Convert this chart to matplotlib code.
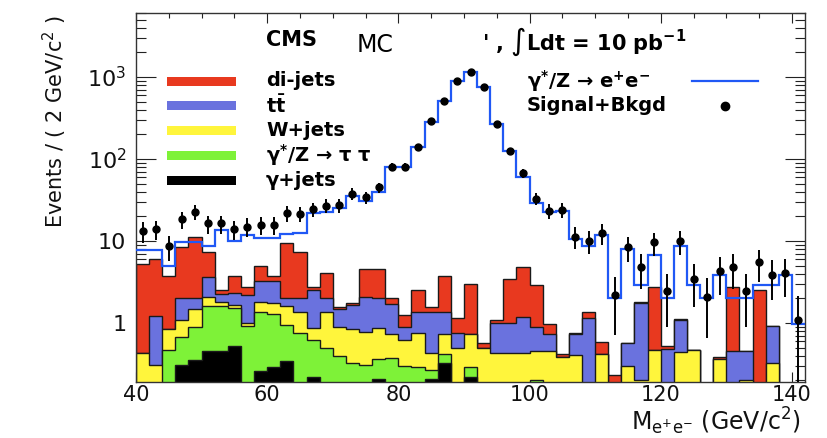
import numpy as np
import matplotlib
matplotlib.use('Agg')
import matplotlib.pyplot as plt
import matplotlib.ticker as ticker
from matplotlib.patches import Rectangle
from matplotlib.lines import Line2D

# 2 GeV bins from 40 to 142 GeV
bin_edges = np.arange(40, 144, 2)

# background components (events / bin)
gamma_jets = [0, 0, 0, 0.31, 0.35, 0.46, 0.46, 0.53, 0, 0.26,
              0.29, 0.34, 0, 0.22, 0, 0, 0, 0, 0.21, 0,
              0, 0, 0.21, 0.33, 0, 0.22, 0, 0, 0, 0,
              0, 0, 0, 0, 0, 0, 0, 0, 0, 0,
              0, 0, 0, 0, 0, 0, 0, 0, 0, 0, 0]
z_tautau = [0, 0, 0.47, 0.37, 0.55, 1.15, 1.15, 0.98, 0.92, 1.11,
            1.01, 0.61, 0.76, 0.40, 0.50, 0.40, 0.33, 0.31, 0.15, 0.37,
            0.30, 0.29, 0.06, 0.09, 0, 0.07, 0, 0, 0, 0,
            0.20, 0, 0, 0, 0, 0, 0, 0, 0, 0,
            0, 0, 0, 0, 0, 0, 0, 0, 0, 0, 0]
w_jets = [0.43, 0.31, 0.38, 0.41, 0.57, 0.45, 0.21, 0.15, 0.07, 0.45,
          0.45, 0.65, 0.61, 0.26, 0.87, 0.50, 0.52, 0.47, 0.51, 0.36,
          0.32, 0.47, 0.16, 0.31, 0.49, 0.44, 0.50, 0.43, 0.43, 0.43,
          0.25, 0.45, 0.39, 0.41, 0, 0.42, 0, 0.30, 0.20, 0.47,
          0, 0.44, 0.47, 0, 0.36, 0, 0.20, 0, 0.33, 0, 0]
ttbar = [0, 0.91, 0, 0.91, 0.53, 1.54, 0.42, 0.68, 1.21, 1.43,
         1.50, 0.40, 0.63, 1.62, 0.63, 0.60, 0.80, 1.28, 1.13, 0.97,
         0.28, 0.61, 0.92, 0.62, 0.26, 0, 0, 0.56, 0.56, 0.77,
         0.45, 0.28, 0, 0.32, 1.15, 0, 0, 0.27, 1.55, 0,
         0.48, 0.66, 0, 0, 0, 0.45, 0.25, 0, 0.60, 0, 0]
dijets = [4.87, 4.78, 2.85, 6.5, 9.1, 3.8, 0.26, 1.46, 0.57, 1.75,
          0.45, 7.5, 5.4, 0.22, 2.1, 0.05, 0.12, 2.54, 2.5, 0.30,
          0.35, 1.13, 0.23, 2.4, 0.40, 2.27, 0.07, 0.09, 2.41, 3.6,
          2.0, 0.24, 0.03, 0.03, 0.20, 0.16, 0.23, 0, 0.05, 2.3,
          0.04, 0.03, 0, 0, 0.03, 2.32, 0, 2.5, 0, 0, 0]

# gamma*/Z -> ee signal
signal = [7.8, 7.8, 5.0, 9.8, 9.8, 8.7, 13.6, 10, 11.8, 10.8,
          10.8, 12.2, 12.6, 21.7, 22.3, 25, 35, 31, 40, 80,
          80, 141, 285, 510, 900, 1160, 748, 267, 126, 61,
          29.3, 22.4, 23.4, 10.6, 8.8, 11.8, 2.0, 7.9, 2.9, 6.7,
          2.0, 8.7, 2.9, 2.0, 3.9, 2.0, 2.0, 2.9, 2.9, 3.9, 0.97]

# signal + background pseudo-data
data = [13.2, 14, 8.7, 18.5, 22.6, 16.4, 16.4, 14, 15, 15.8,
        15.8, 22, 21.5, 24.3, 27, 27.5, 38, 34, 45, 80.5,
        80.5, 141, 290, 510, 902, 1160, 748, 267, 126, 67,
        33, 23.4, 24, 11.3, 10.1, 12.4, 2.2, 8.4, 4.8, 9.6,
        2.45, 10, 3.4, 2.1, 4.3, 4.8, 2.45, 5.5, 3.9, 4.1, 1.1]

layers = [('di-jets', dijets, '#E8391F'),
          ('t$\\bar{t}$', ttbar, '#6A72DE'),
          ('W+jets', w_jets, '#FFF53C'),
          ('γ$^{*}$/Z → τ τ', z_tautau, '#7EF238'),
          ('γ+jets', gamma_jets, '#000000')]

plt.rcParams['font.family'] = 'DejaVu Sans'
plt.rcParams['mathtext.default'] = 'regular'

W, H = 828, 438
fig = plt.figure(figsize=(W / 100, H / 100), dpi=100)
ax = fig.add_axes([136 / W, 1 - 382 / H, (805 - 136) / W, (382 - 13) / H])
ax.set_yscale('log')

# stack, bottom component first
comps = [np.array(l[1], dtype=float) for l in layers][::-1]
cum = np.cumsum(comps, axis=0)[::-1]
floor = 1e-3
for (name, vals, col), top in zip(layers, cum):
    ax.stairs(np.where(top > 0, top, floor), bin_edges, baseline=floor, fill=True,
              facecolor=col, edgecolor='#1a1a1a', linewidth=1.0, zorder=1)

ax.stairs(signal, bin_edges, baseline=None, color='#2058F5', linewidth=1.6, zorder=3)

centers = 0.5 * (bin_edges[:-1] + bin_edges[1:])
data = np.array(data)
err = np.sqrt(data)
lo = np.minimum(err, data - 0.05)
ax.errorbar(centers, data, yerr=[lo, err], fmt='o', color='black', ms=5,
            elinewidth=1.4, capsize=0, zorder=4)

ax.set_xlim(40, 142)
ax.set_ylim(0.191, 6040)
ax.set_axisbelow(True)

ax.xaxis.set_major_locator(ticker.MultipleLocator(20))
ax.xaxis.set_minor_locator(ticker.MultipleLocator(5))
ax.yaxis.set_major_locator(ticker.FixedLocator([1, 10, 100, 1000]))
ax.yaxis.set_major_formatter(ticker.FixedFormatter(['1', '10', '$10^{2}$', '$10^{3}$']))
ax.yaxis.set_minor_locator(ticker.LogLocator(base=10, subs=np.arange(2, 10), numticks=20))
ax.yaxis.set_minor_formatter(ticker.NullFormatter())

ax.tick_params(which='both', direction='in', top=True, right=True, width=0.8, colors='#222222',
               labelcolor='#111111')
ax.tick_params(axis='x', which='major', length=7.2, labelsize=15, pad=2.5)
ax.tick_params(axis='x', which='minor', length=3.6)
ax.tick_params(axis='y', which='major', length=14.4, labelsize=16, pad=7)
ax.tick_params(axis='y', which='minor', length=7.2)
for s in ax.spines.values():
    s.set_linewidth(1.0)
    s.set_color('#333333')


def fx(px):
    return px / W


def fy(py):
    return 1 - py / H


# axis titles
fig.text(fx(55), fy(122), 'Events / ( 2 GeV/c$^{2}$ )', rotation=90,
         ha='center', va='center', fontsize=15, color='#111111')
fig.text(fx(801), fy(421), 'M$_{e^{+}e^{-}}$ (GeV/c$^{2}$)',
         ha='right', va='center', fontsize=17, color='#111111')

# header
fig.text(fx(266), fy(40), 'CMS', fontsize=15, fontweight='bold', ha='left', va='center')
fig.text(fx(357), fy(45), 'MC', fontsize=17, ha='left', va='center')
fig.text(fx(482), fy(42), "' , $\\int$Ldt = 10 pb$^{-1}$", fontsize=15,
         fontweight='bold', ha='left', va='center')

# left legend
for i, (name, vals, col) in enumerate(layers):
    yc = 81 + 24.8 * i
    fig.add_artist(Rectangle((fx(167), fy(yc + 4.5)), (236 - 167) / W, 9 / H,
                             facecolor=col, edgecolor='none', transform=fig.transFigure))
    fig.text(fx(266), fy(yc), name, fontsize=14, fontweight='bold', ha='left', va='center')

# right legend
fig.text(fx(527), fy(81), 'γ$^{*}$/Z → e$^{+}$e$^{-}$', fontsize=14, fontweight='bold',
         ha='left', va='center')
fig.add_artist(Line2D([fx(692), fx(758)], [fy(81), fy(81)], color='#2058F5', linewidth=1.6,
                      transform=fig.transFigure))
fig.text(fx(527), fy(106), 'Signal+Bkgd', fontsize=14, fontweight='bold', ha='left', va='center')
fig.add_artist(Line2D([fx(725)], [fy(106)], marker='o', color='black', ms=6,
                      transform=fig.transFigure))

fig.savefig('out.png', dpi=100)
